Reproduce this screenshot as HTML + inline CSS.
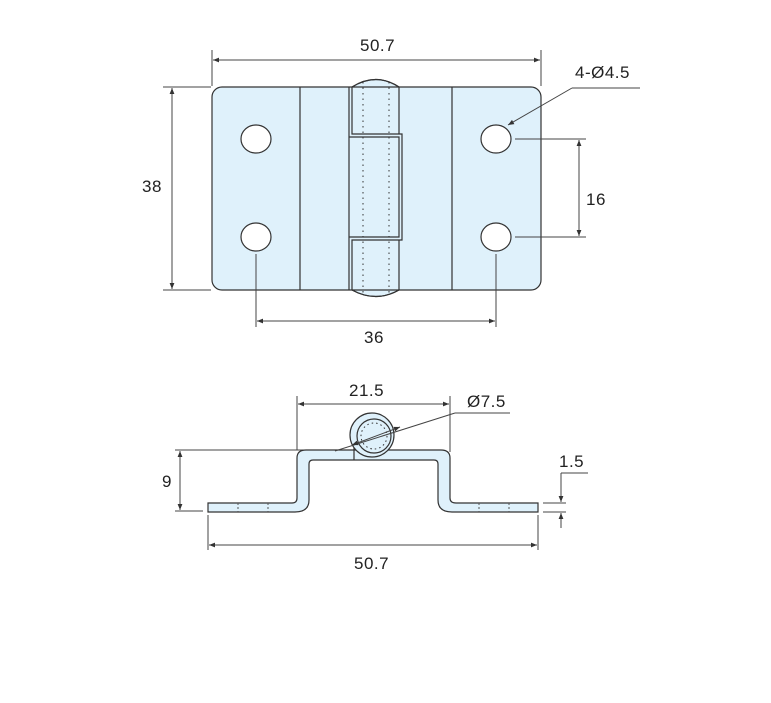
<!DOCTYPE html>
<html><head><style>
html,body{margin:0;padding:0;background:#fff;}
svg{display:block;}
text{font-family:"Liberation Sans",sans-serif;font-size:17px;fill:#222;letter-spacing:0.5px;}
</style></head><body>
<svg width="771" height="703" viewBox="0 0 771 703" xmlns="http://www.w3.org/2000/svg">
<defs>
<marker id="a" viewBox="0 0 10 10" refX="10" refY="5" markerWidth="10" markerHeight="6" orient="auto-start-reverse" markerUnits="userSpaceOnUse"><path d="M0,1 L10,5 L0,9 z" fill="#333"/></marker>
</defs>
<!-- plate -->
<g stroke="#333" stroke-width="1.2">
<path d="M352,87 Q376,72 399,87 L399,290 Q376,303 352,290 Z" fill="#dff1fb"/>
<rect x="212" y="87" width="329" height="203" rx="10" fill="#dff1fb"/>
<line x1="300" y1="87" x2="300" y2="290"/>
<line x1="452" y1="87" x2="452" y2="290"/>
<path d="M349,87 L349,290 M352,87 L352,134 L402,134 L402,240 L352,240 L352,290 M399,87 L399,134 M399,240 L399,290 M349,137 L399,137 L399,237 L349,237" fill="none"/>
<path d="M352,87 Q376,72 399,87 M352,290 Q376,303 399,290" fill="none"/>
<ellipse cx="256" cy="139" rx="15" ry="14" fill="#fff"/>
<ellipse cx="256" cy="237" rx="15" ry="14" fill="#fff"/>
<ellipse cx="496" cy="139" rx="15" ry="14" fill="#fff"/>
<ellipse cx="496" cy="237" rx="15" ry="14" fill="#fff"/>
</g>
<g stroke="#333" stroke-width="1" stroke-dasharray="1.5,4">
<line x1="363" y1="82" x2="363" y2="296"/><line x1="389" y1="82" x2="389" y2="296"/>
</g>
<!-- top dims -->
<g stroke="#444" stroke-width="1" fill="none">
<line x1="212" y1="50" x2="212" y2="86"/><line x1="541" y1="50" x2="541" y2="86"/>
<line x1="213" y1="60" x2="540" y2="60" marker-start="url(#a)" marker-end="url(#a)"/>
<line x1="163" y1="87" x2="211" y2="87"/><line x1="163" y1="290" x2="211" y2="290"/>
<line x1="172" y1="88" x2="172" y2="289" marker-start="url(#a)" marker-end="url(#a)"/>
<line x1="515" y1="139" x2="586" y2="139"/><line x1="515" y1="237" x2="586" y2="237"/>
<line x1="579" y1="140" x2="579" y2="236" marker-start="url(#a)" marker-end="url(#a)"/>
<line x1="256" y1="254" x2="256" y2="327"/><line x1="496" y1="254" x2="496" y2="327"/>
<line x1="257" y1="321" x2="495" y2="321" marker-start="url(#a)" marker-end="url(#a)"/>
<line x1="640" y1="88" x2="572" y2="88"/>
<line x1="572" y1="88" x2="508" y2="125" marker-end="url(#a)"/>
</g>
<text x="360" y="51">50.7</text>
<text x="142" y="192">38</text>
<text x="586" y="205">16</text>
<text x="364" y="343">36</text>
<text x="575" y="78">4-Ø4.5</text>
<!-- side view dims -->
<g stroke="#444" stroke-width="1" fill="none">
<line x1="297" y1="396" x2="297" y2="450"/><line x1="450" y1="396" x2="450" y2="452"/>
<line x1="298" y1="404" x2="449" y2="404" marker-start="url(#a)" marker-end="url(#a)"/>
<line x1="175" y1="450" x2="330" y2="450"/><line x1="175" y1="511" x2="203" y2="511"/>
<line x1="180" y1="451" x2="180" y2="510" marker-start="url(#a)" marker-end="url(#a)"/>
<line x1="208" y1="515" x2="208" y2="550"/><line x1="538" y1="515" x2="538" y2="550"/>
<line x1="209" y1="545" x2="537" y2="545" marker-start="url(#a)" marker-end="url(#a)"/>
<line x1="543" y1="503" x2="566" y2="503"/><line x1="543" y1="512" x2="566" y2="512"/>
<line x1="588" y1="473" x2="561" y2="473"/><line x1="561" y1="473" x2="561" y2="502" marker-end="url(#a)"/>
<line x1="561" y1="528" x2="561" y2="513" marker-end="url(#a)"/>
<line x1="510" y1="413" x2="455" y2="413"/>
</g>
<!-- profile -->
<g stroke="#333" stroke-width="1.2" fill="#dff1fb">
<path d="M208,503 L292,503 Q297,503 297,498 L297,458 Q297,450 306,450 L441,450 Q450,450 450,458 L450,498 Q450,503 456,503 L538,503 L538,512 L452,512 Q438,512 438,500 L438,464 Q438,460 434,460 L313,460 Q309,460 309,464 L309,500 Q309,512 295,512 L208,512 Z"/>
<circle cx="372" cy="435" r="22"/>
<circle cx="374" cy="436" r="17"/>
<line x1="354" y1="448" x2="354" y2="460"/>
</g>
<circle cx="374" cy="436" r="13" fill="none" stroke="#333" stroke-width="1" stroke-dasharray="1.5,3"/>
<g stroke="#555" stroke-width="1" stroke-dasharray="2,2">
<line x1="238" y1="503" x2="238" y2="512"/><line x1="268" y1="503" x2="268" y2="512"/>
<line x1="479" y1="503" x2="479" y2="512"/><line x1="509" y1="503" x2="509" y2="512"/>
</g>
<g stroke="#444" stroke-width="1">
<line x1="335" y1="451" x2="455" y2="413"/>
<line x1="400" y1="427" x2="352" y2="445" marker-start="url(#a)" marker-end="url(#a)"/>
</g>
<text x="349" y="396">21.5</text>
<text x="467" y="407">Ø7.5</text>
<text x="162" y="487">9</text>
<text x="559" y="467">1.5</text>
<text x="354" y="569">50.7</text>
</svg>
</body></html>
